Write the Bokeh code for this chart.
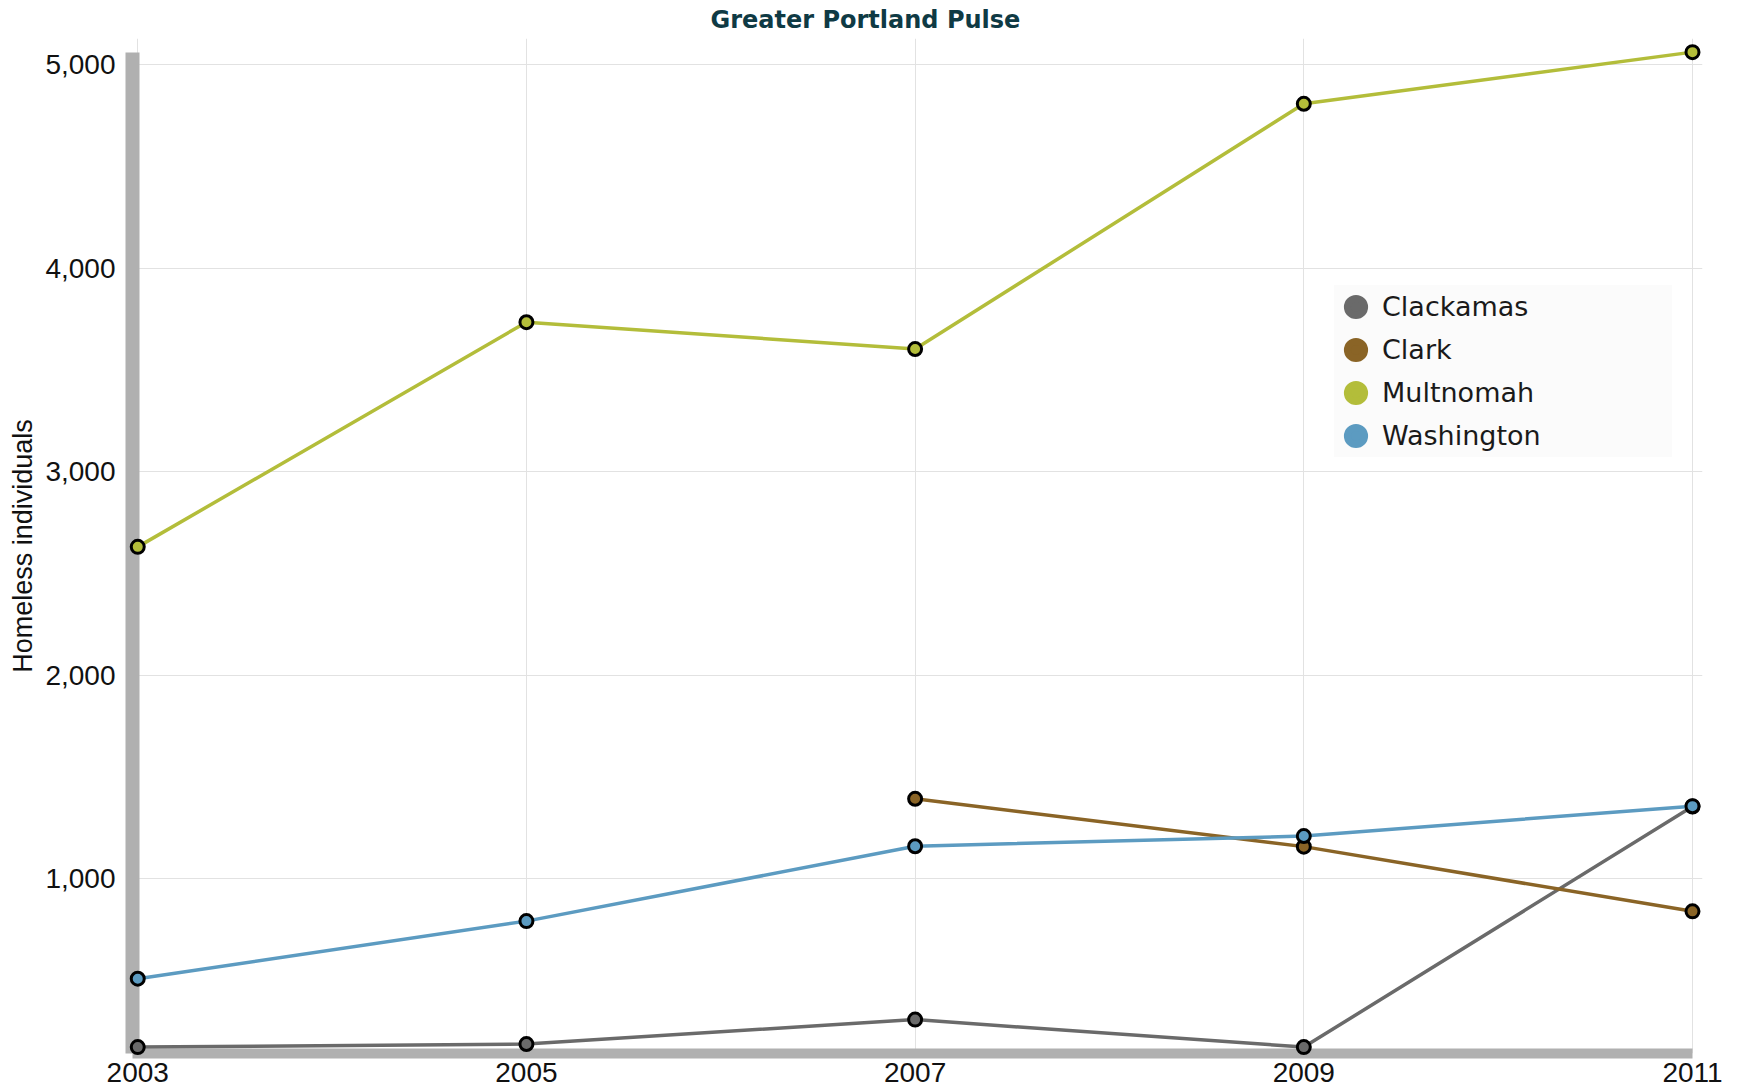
import numpy as np
from bokeh.plotting import figure
from bokeh.models import ColumnDataSource, FixedTicker, NumeralTickFormatter, Legend, LegendItem
from bokeh.embed import file_html
from bokeh.resources import INLINE

# ---- data ----
years = [2003, 2005, 2007, 2009, 2011]
clackamas = [173, 188, 308, 173, 1355]
clark = [None, None, 1393, 1158, 840]
multnomah = [2631, 3735, 3603, 4808, 5062]
washington = [509, 792, 1160, 1210, 1357]

series_names = ["Clackamas", "Clark", "Multnomah", "Washington"]
series_values = [clackamas, clark, multnomah, washington]
series_colors = ["#6a6a6a", "#8a6426", "#b3bd3a", "#5c9bc1"]
x_ticks = years
y_ticks = [1000, 2000, 3000, 4000, 5000]

x_start, x_end = 2002.973, 2011.0515
y_start, y_end = 141.5, 5129

p = figure(width=1740, height=1089, output_backend="svg", toolbar_location=None,
           x_range=(x_start, x_end), y_range=(y_start, y_end),
           min_border_left=132, min_border_right=38, min_border_top=38, min_border_bottom=36)

p.background_fill_color = "white"
p.border_fill_color = "white"
p.outline_line_color = None

# title
p.title.text = "Greater Portland Pulse"
p.title.text_font = "DejaVu Sans"
p.title.text_font_style = "bold"
p.title.text_font_size = "24px"
p.title.text_color = "#0f3a44"
p.title.align = "left"
p.title.vertical_align = "middle"
p.title.offset = 578
p.title.standoff = 7

# axes
p.xaxis.ticker = FixedTicker(ticks=x_ticks)
p.yaxis.ticker = FixedTicker(ticks=y_ticks)
p.xgrid.ticker = p.xaxis.ticker
p.ygrid.ticker = p.yaxis.ticker
p.yaxis.formatter = NumeralTickFormatter(format="0,0")
p.xaxis.bounds = (x_start, max(years))
p.yaxis.bounds = (y_start, max(multnomah))

for ax in (p.xaxis, p.yaxis):
    ax.axis_line_color = "#b0b0b0"
    ax.major_tick_line_color = None
    ax.minor_tick_line_color = None
    ax.major_label_text_font = "Liberation Sans"
    ax.major_label_text_font_size = "28px"
    ax.major_label_text_color = "#111111"
p.yaxis.axis_line_width = 14
p.xaxis.axis_line_width = 10
p.yaxis.major_label_standoff = 11
p.xaxis.major_label_standoff = 3

p.yaxis.axis_label = "Homeless individuals"
p.yaxis.axis_label_text_font = "Liberation Sans"
p.yaxis.axis_label_text_font_size = "27px"
p.yaxis.axis_label_text_font_style = "normal"
p.yaxis.axis_label_text_color = "#111111"
p.yaxis.axis_label_standoff = 4

p.xgrid.grid_line_color = "#e2e2e2"
p.ygrid.grid_line_color = "#e2e2e2"
p.xgrid.grid_line_width = 1
p.ygrid.grid_line_width = 1

legend_items = []
for name, vals, col in zip(series_names, series_values, series_colors):
    yv = np.array([np.nan if v is None else v for v in vals], dtype=float)
    src = ColumnDataSource(dict(x=years, y=yv))
    p.line("x", "y", source=src, line_color=col, line_width=3.5, level="overlay")
    p.scatter("x", "y", source=src, size=13, fill_color=col, line_color="black",
              line_width=3, level="overlay")
    leg_r = p.scatter("x", "y", source=src, size=12, fill_color=col, line_color=col,
                      line_width=7, visible=False)
    legend_items.append(LegendItem(label=name, renderers=[leg_r]))

legend = Legend(items=legend_items, location=(1202, 596))
legend.background_fill_color = "#fbfbfb"
legend.background_fill_alpha = 1
legend.border_line_color = None
legend.padding = 0
legend.margin = 0
legend.spacing = 0
legend.glyph_width = 43
legend.glyph_height = 43
legend.label_standoff = 5
legend.label_width = 290
legend.label_height = 20
legend.label_text_font = "DejaVu Sans"
legend.label_text_font_size = "27px"
legend.label_text_color = "#1a1a1a"
legend.click_policy = "none"
p.add_layout(legend)

open("out.html", "w").write(file_html(p, INLINE))
